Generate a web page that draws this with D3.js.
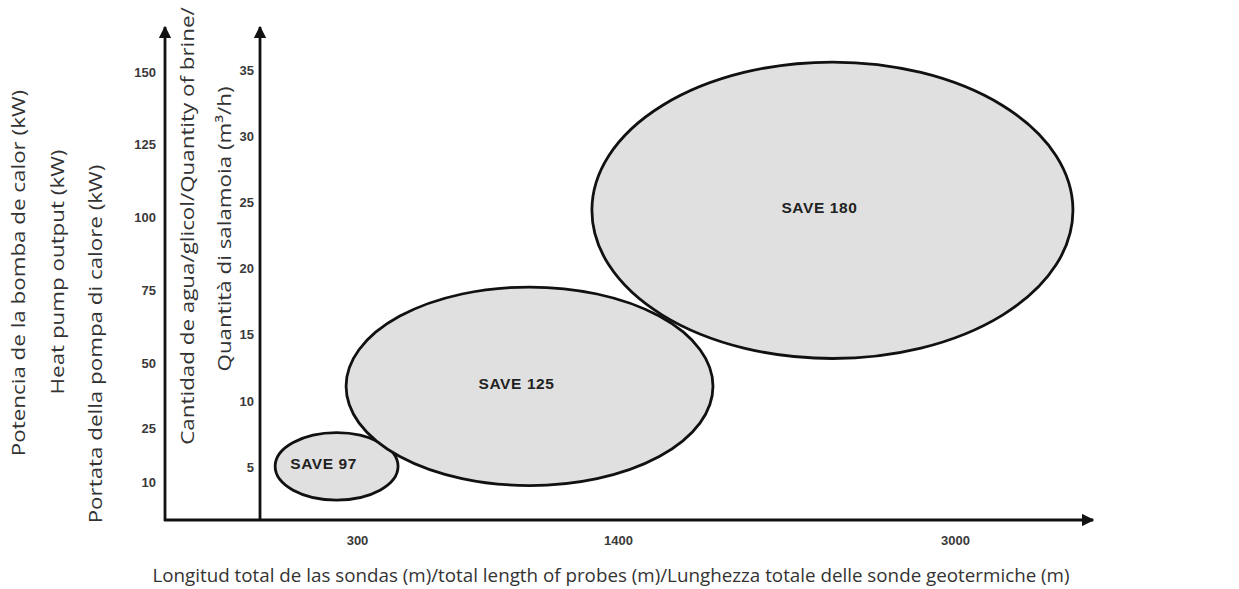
<!DOCTYPE html>
<html>
<head>
<meta charset="utf-8">
<script src="https://cdn.jsdelivr.net/npm/d3@7"></script>
<style>
  body { margin: 0; background: #fff; }
  .tick text { font-family: "Liberation Sans", Arial, sans-serif; font-weight: bold; font-size: 13px; fill: #3a3a3a; }
  .title { font-family: "Open Sans", sans-serif; font-size: 18.8px; fill: #333; }
  .unit { font-family: "Liberation Sans", Arial, sans-serif; font-weight: bold; font-size: 15.5px; fill: #222; letter-spacing: 0.6px; }
</style>
</head>
<body>
<svg id="chart" width="1239" height="589"></svg>
<script>
// tick labels of the three axes
const kwTicks = [10, 25, 50, 75, 100, 125, 150];
const flowTicks = [5, 10, 15, 20, 25, 30, 35];
const lengthTicks = [300, 1400, 3000];

// the three heat pump models, as ellipses in length (m) / flow (m3/h)
const models = ["SAVE 97", "SAVE 125", "SAVE 180"];
const lengthMin = [-45, 254, 1290];
const lengthMax = [473, 1851, 3560];
const flowMin = [2.5, 3.6, 13.2];
const flowMax = [7.6, 18.6, 35.6];

const svg = d3.select('#chart');

const axisBase = 520;
const kwX = 165;
const flowX = 260;
const axisTop = 27;
const axisEnd = 1093;
const stretch = 1.19; // vertical titles are drawn taller in the original

// schematic scales (the drawing is not to scale)
const xScale = d3.scaleLinear()
    .domain([300, 1400, 3000])
    .range([357, 618, 955]);

const flowScale = d3.scaleLinear()
    .domain([5, 35])
    .range([467, 70]);

const kwScale = d3.scaleLinear()
    .domain([10, 25, 50, 150])
    .range([482, 428, 363, 72]);

// arrow head
svg.append('defs').append('marker')
    .attr('id', 'arrow')
    .attr('viewBox', '0 0 10 10')
    .attr('refX', 9)
    .attr('refY', 5)
    .attr('markerWidth', 4.5)
    .attr('markerHeight', 4.5)
    .attr('markerUnits', 'strokeWidth')
    .attr('orient', 'auto')
    .append('path')
    .attr('d', 'M0,0 L10,5 L0,10 z')
    .attr('fill', '#111');

// ellipses
const groups = svg.selectAll('.model')
    .data(models)
    .enter()
    .append('g')
    .attr('class', 'model');

groups.append('ellipse')
    .attr('cx', (d, i) => (xScale(lengthMin[i]) + xScale(lengthMax[i])) / 2)
    .attr('cy', (d, i) => (flowScale(flowMin[i]) + flowScale(flowMax[i])) / 2)
    .attr('rx', (d, i) => (xScale(lengthMax[i]) - xScale(lengthMin[i])) / 2)
    .attr('ry', (d, i) => (flowScale(flowMin[i]) - flowScale(flowMax[i])) / 2)
    .attr('fill', '#e0e0e0')
    .attr('stroke', '#111')
    .attr('stroke-width', 2.8);

groups.append('text')
    .attr('class', 'unit')
    .attr('x', (d, i) => (xScale(lengthMin[i]) + xScale(lengthMax[i])) / 2 - 13)
    .attr('y', (d, i) => (flowScale(flowMin[i]) + flowScale(flowMax[i])) / 2 - 3)
    .attr('dy', '0.35em')
    .attr('text-anchor', 'middle')
    .text(d => d);

// axis lines
const axisLine = (x1, y1, x2, y2) => svg.append('line')
    .attr('x1', x1).attr('y1', y1)
    .attr('x2', x2).attr('y2', y2)
    .attr('stroke', '#111')
    .attr('stroke-width', 2.8)
    .attr('marker-end', 'url(#arrow)');

axisLine(kwX, axisBase + 1, kwX, axisTop);
axisLine(flowX, axisBase + 1, flowX, axisTop);
axisLine(kwX - 1, axisBase, axisEnd, axisBase);

// tick labels
svg.append('g')
    .attr('transform', `translate(${kwX}, 0)`)
    .call(d3.axisLeft(kwScale).tickValues(kwTicks).tickSize(0).tickPadding(9).tickFormat(d3.format('d')))
    .call(g => g.select('.domain').remove());

svg.append('g')
    .attr('transform', `translate(${flowX}, 0)`)
    .call(d3.axisLeft(flowScale).tickValues(flowTicks).tickSize(0).tickPadding(6).tickFormat(d3.format('d')))
    .call(g => g.select('.domain').remove());

svg.append('g')
    .attr('transform', `translate(0, ${axisBase})`)
    .call(d3.axisBottom(xScale).tickValues(lengthTicks).tickSize(0).tickPadding(16).tickFormat(d3.format('d')))
    .call(g => g.select('.domain').remove());

// axis titles
const vTitle = (x, y, txt) => svg.append('text')
    .attr('class', 'title')
    .attr('transform', `translate(${x}, ${y}) rotate(-90) scale(${stretch}, 1)`)
    .attr('dy', '0.35em')
    .attr('text-anchor', 'middle')
    .text(txt);

vTitle(18, 273, 'Potencia de la bomba de calor (kW)');
vTitle(57, 272, 'Heat pump output (kW)');
vTitle(95, 344, 'Portata della pompa di calore (kW)');
vTitle(187, 226, 'Cantidad de agua/glicol/Quantity of brine/');
vTitle(224, 229, 'Quantità di salamoia (m³/h)');

svg.append('text')
    .attr('class', 'title')
    .attr('x', 611)
    .attr('y', 575)
    .attr('dy', '0.35em')
    .attr('text-anchor', 'middle')
    .text('Longitud total de las sondas (m)/total length of probes (m)/Lunghezza totale delle sonde geotermiche (m)');
</script>
</body>
</html>
